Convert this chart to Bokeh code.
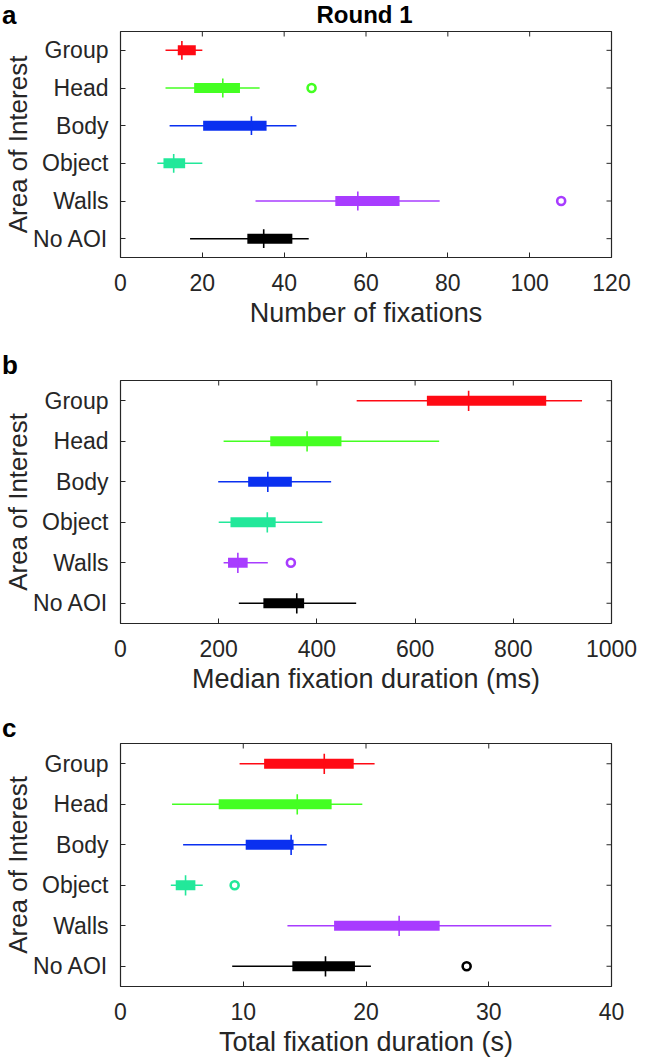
from bokeh.plotting import figure
from bokeh.models import Range1d, FixedTicker, ColumnDataSource, Div
from bokeh.layouts import column
from bokeh.embed import file_html
from bokeh.resources import INLINE

# ---------------- data ----------------
categories = ["Group", "Head", "Body", "Object", "Walls", "No AOI"]
colors = ["#ff0a14", "#44ff22", "#0a30f0", "#22e89a", "#a83cff", "#000000"]

# a: Number of fixations
fix_ticks = [0, 20, 40, 60, 80, 100, 120]
fix_wlo = [11, 11, 12, 9, 33, 17]
fix_q1 = [14, 18, 20.2, 10.5, 52.5, 31]
fix_med = [15, 25, 32, 13, 58, 35]
fix_q3 = [18.4, 29.2, 35.7, 15.8, 68.2, 42]
fix_whi = [20, 34, 43, 20, 78, 46]
fix_out_cat = ["Head", "Walls"]
fix_out_val = [46.7, 107.7]

# b: Median fixation duration (ms)
dur_ticks = [0, 200, 400, 600, 800, 1000]
dur_wlo = [481, 210, 199, 200, 210, 241]
dur_q1 = [624, 305, 260, 224, 219, 291]
dur_med = [709, 380, 300, 299, 239, 359]
dur_q3 = [867, 450, 349, 316, 259, 374]
dur_whi = [940, 649, 429, 411, 300, 480]
dur_out_cat = ["Walls"]
dur_out_val = [347]

# c: Total fixation duration (s)
tot_ticks = [0, 10, 20, 30, 40]
tot_wlo = [9.7, 4.2, 5.1, 4.1, 13.6, 9.1]
tot_q1 = [11.7, 8.0, 10.2, 4.5, 17.4, 14.0]
tot_med = [16.6, 14.4, 13.9, 5.3, 22.7, 16.7]
tot_q3 = [19.0, 17.2, 14.1, 6.1, 26.0, 19.1]
tot_whi = [20.7, 19.7, 16.8, 6.7, 35.1, 20.4]
tot_out_cat = ["Object", "No AOI"]
tot_out_val = [9.3, 28.2]

FONT = "Liberation Sans"
AX = "#262626"
W = 652
LEFT = 118
RIGHT = 41


def style_axis(ax):
    ax.axis_line_color = None
    ax.major_tick_in = 5
    ax.major_tick_out = 0
    ax.major_tick_line_color = AX
    ax.major_tick_line_width = 1
    ax.minor_tick_line_color = None
    ax.major_label_text_font = FONT
    ax.major_label_text_color = AX
    ax.major_label_text_font_size = "23px"
    ax.major_label_standoff = 12
    ax.axis_label_text_font = FONT
    ax.axis_label_text_font_size = "27px"
    ax.axis_label_text_font_style = "normal"
    ax.axis_label_text_color = AX


def heading(h, items):
    """A strip of bold text (panel letter / title) drawn as inline SVG."""
    parts = []
    for x, base, txt, size, anchor in items:
        parts.append(
            f'<text x="{x}" y="{base}" font-family="{FONT}" font-size="{size}px" '
            f'font-weight="bold" text-anchor="{anchor}" fill="#000000">{txt}</text>')
    svg = (f'<svg xmlns="http://www.w3.org/2000/svg" width="{W}" height="{h}" '
           f'style="display:block;overflow:visible">' + "".join(parts) + "</svg>")
    return Div(text=svg, width=W, height=h, margin=(0, 0, 0, 0))


def make_panel(ticks, wlo, q1, med, q3, whi, out_cat, out_val, xlabel,
               height, top, bottom):
    xmax = ticks[-1]
    n = len(categories)
    pos = list(range(1, n + 1))
    p = figure(width=W, height=height, x_range=Range1d(0, xmax),
               y_range=Range1d(n + 0.5, 0.5),
               output_backend="svg", toolbar_location=None,
               min_border_left=LEFT, min_border_right=RIGHT,
               min_border_top=top, min_border_bottom=bottom)
    p.grid.visible = False
    p.outline_line_color = AX
    p.outline_line_width = 1.2
    p.outline_line_alpha = 1

    p.xaxis.ticker = FixedTicker(ticks=ticks)
    p.yaxis.ticker = FixedTicker(ticks=pos)
    p.yaxis.major_label_overrides = {k: c for k, c in zip(pos, categories)}
    style_axis(p.xaxis[0])
    style_axis(p.yaxis[0])
    p.xaxis.major_label_standoff = 16
    p.xaxis.axis_label = xlabel
    p.xaxis.axis_label_standoff = 4
    p.yaxis.axis_label = "Area of Interest"
    p.yaxis.axis_label_text_font_size = "26px"
    p.yaxis.axis_label_standoff = -3

    # inward ticks on the top and right edges (half of each dash is clipped)
    p.scatter(x=ticks, y=[0.5] * len(ticks), marker="dash", size=10,
              angle=1.5707963, line_color=AX, line_width=1)
    p.scatter(x=[xmax] * n, y=pos, marker="dash", size=10,
              line_color=AX, line_width=1)

    src = ColumnDataSource(dict(
        y=pos, wlo=wlo, whi=whi, q1=q1, q3=q3, med=med,
        ylo=[v - 0.25 for v in pos], yhi=[v + 0.25 for v in pos],
        color=colors))
    p.segment(x0="wlo", y0="y", x1="whi", y1="y", line_color="color",
              line_width=1.5, source=src)
    p.segment(x0="q1", y0="y", x1="q3", y1="y", line_color="color",
              line_width=10, line_cap="butt", source=src)
    p.segment(x0="med", y0="ylo", x1="med", y1="yhi", line_color="color",
              line_width=1.6, source=src)
    oy = [categories.index(c) + 1 for c in out_cat]
    oc = [colors[categories.index(c)] for c in out_cat]
    p.scatter(x=out_val, y=oy, marker="circle", size=8, fill_color=None,
              line_color=oc, line_width=2.6)
    return p


head_a = heading(30, [(2, 24, "a", 26, "start"), (364.5, 22.5, "Round 1", 24, "middle")])
pa = make_panel(fix_ticks, fix_wlo, fix_q1, fix_med, fix_q3, fix_whi,
                fix_out_cat, fix_out_val, "Number of fixations",
                height=320, top=1, bottom=93)
head_b = heading(29, [(2, 23.6, "b", 26, "start")])
pb = make_panel(dur_ticks, dur_wlo, dur_q1, dur_med, dur_q3, dur_whi,
                dur_out_cat, dur_out_val, "Median fixation duration (ms)",
                height=334, top=1, bottom=90)
head_c = heading(29, [(2, 23.6, "c", 26, "start")])
pc = make_panel(tot_ticks, tot_wlo, tot_q1, tot_med, tot_q3, tot_whi,
                tot_out_cat, tot_out_val, "Total fixation duration (s)",
                height=320, top=1, bottom=76)

layout = column(head_a, pa, head_b, pb, head_c, pc, spacing=0)
open("out.html", "w").write(file_html(layout, INLINE))
